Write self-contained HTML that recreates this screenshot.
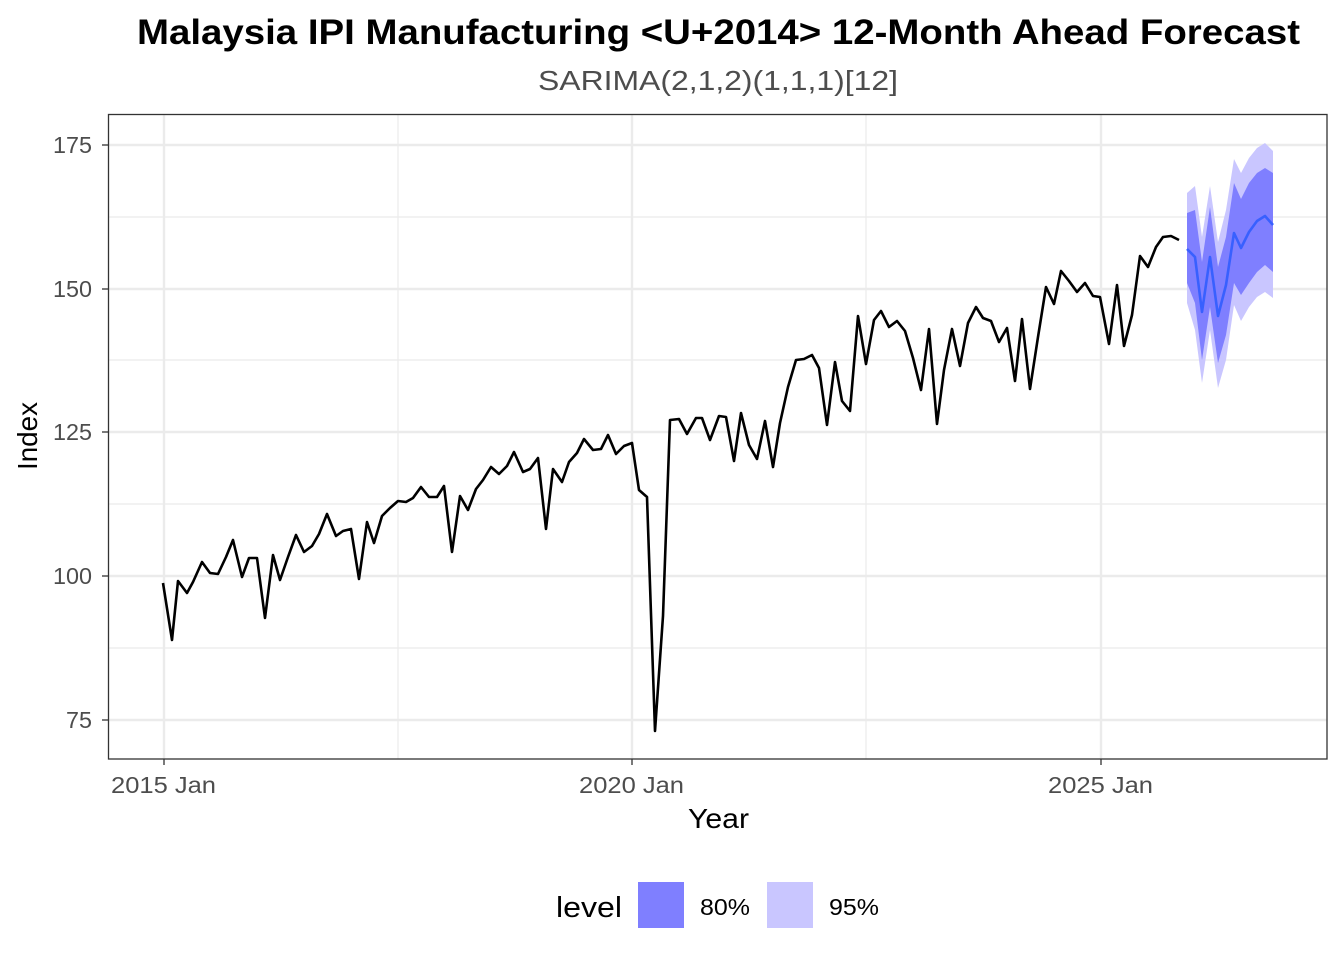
<!DOCTYPE html>
<html><head><meta charset="utf-8"><style>body{margin:0;background:#fff}svg{display:block}text{font-family:"Liberation Sans",Arial,sans-serif}</style></head><body>
<svg width="1344" height="960" viewBox="0 0 1344 960" xmlns="http://www.w3.org/2000/svg">
<rect width="1344" height="960" fill="#fff"/>
<text x="137" y="44" font-size="35" font-weight="bold" textLength="1163" lengthAdjust="spacingAndGlyphs" fill="#000">Malaysia IPI Manufacturing &lt;U+2014&gt; 12-Month Ahead Forecast</text>
<text x="538" y="90" font-size="28" textLength="360" lengthAdjust="spacingAndGlyphs" fill="#4d4d4d">SARIMA(2,1,2)(1,1,1)[12]</text>
<g stroke="#ebebeb" stroke-width="1.2">
<line x1="108" x2="1327" y1="217" y2="217"/><line x1="108" x2="1327" y1="360" y2="360"/><line x1="108" x2="1327" y1="504" y2="504"/><line x1="108" x2="1327" y1="648" y2="648"/>
<line x1="398" x2="398" y1="114" y2="759"/><line x1="866" x2="866" y1="114" y2="759"/>
</g>
<g stroke="#ebebeb" stroke-width="2.4">
<line x1="108" x2="1327" y1="145" y2="145"/><line x1="108" x2="1327" y1="289" y2="289"/><line x1="108" x2="1327" y1="432" y2="432"/><line x1="108" x2="1327" y1="576" y2="576"/><line x1="108" x2="1327" y1="720" y2="720"/>
<line x1="164" x2="164" y1="114" y2="759"/><line x1="632" x2="632" y1="114" y2="759"/><line x1="1101" x2="1101" y1="114" y2="759"/>
</g>
<polygon fill="#c9c6ff" points="1187,193 1195,186 1202,237 1210,186 1218,242 1226,210 1234,159 1241,173 1249,158 1257,148 1265,143 1273,151 1273,298 1265,292 1257,297 1249,307 1241,321 1234,305 1226,360 1218,388 1210,330 1202,383 1195,330 1187,303"/>
<polygon fill="#7f7fff" points="1187,213 1195,210 1202,262 1210,207 1218,267 1226,237 1234,183 1241,199 1249,183 1257,173 1265,168 1273,173 1273,272 1265,265 1257,272 1249,283 1241,295 1234,283 1226,335 1218,363 1210,307 1202,360 1195,303 1187,283"/>
<polyline fill="none" stroke="#000" stroke-width="2.6" stroke-linejoin="round" points="163,583 172,640 178,581 187,593 193,582 202,562 210,573 218,574 226,557 233,540 242,577 249,558 257,558 265,618 273,555 280,580 288,557 296,535 304,552 312,546 319,534 327,514 336,536 343,531 351,529 359,579 367,522 374,543 382,516 390,508 398,501 406,502 413,498 421,487 429,497 437,497 444,486 452,552 460,496 468,510 476,489 483,480 491,467 499,474 507,466 514,452 523,472 530,469 538,458 546,529 553,469 562,482 569,462 577,453 584,439 593,450 601,449 608,435 616,454 624,446 632,443 639,490 647,497 655,731 663,616 670,420 679,419 687,434 696,418 702,418 710,440 719,416 726,417 734,461 741,413 749,445 757,459 765,421 773,467 780,423 788,387 796,360 804,359 812,355 819,368 827,425 835,362 842,401 850,411 858,316 866,364 874,320 881,311 889,327 897,321 905,331 913,358 921,390 929,329 937,424 944,370 952,329 960,366 968,323 976,307 983,318 991,321 999,342 1007,328 1015,381 1022,319 1030,389 1038,337 1046,287 1054,304 1061,271 1069,281 1077,292 1085,283 1093,296 1100,297 1109,344 1117,285 1124,346 1132,315 1140,256 1148,267 1156,247 1163,237 1171,236 1179,240"/>
<polyline fill="none" stroke="#3860ff" stroke-width="2.6" stroke-linejoin="round" points="1187,249 1195,257 1202,312 1210,257 1218,316 1226,285 1234,233 1241,248 1249,232 1257,221 1265,216 1273,225"/>
<rect x="108.5" y="114.5" width="1218.5" height="644.5" fill="none" stroke="#333" stroke-width="1.3"/>
<g stroke="#333" stroke-width="1.3">
<line x1="102" x2="108" y1="145" y2="145"/><line x1="102" x2="108" y1="289" y2="289"/><line x1="102" x2="108" y1="432" y2="432"/><line x1="102" x2="108" y1="576" y2="576"/><line x1="102" x2="108" y1="720" y2="720"/>
<line x1="164" x2="164" y1="759" y2="765"/><line x1="632" x2="632" y1="759" y2="765"/><line x1="1101" x2="1101" y1="759" y2="765"/>
</g>
<g font-size="23" fill="#4d4d4d">
<text x="53" y="153" textLength="39" lengthAdjust="spacingAndGlyphs">175</text><text x="53" y="297" textLength="39" lengthAdjust="spacingAndGlyphs">150</text><text x="53" y="440" textLength="39" lengthAdjust="spacingAndGlyphs">125</text><text x="53" y="584" textLength="39" lengthAdjust="spacingAndGlyphs">100</text><text x="66" y="728" textLength="26" lengthAdjust="spacingAndGlyphs">75</text>
</g>
<g font-size="23" fill="#4d4d4d">
<text x="111" y="793" textLength="105" lengthAdjust="spacingAndGlyphs">2015 Jan</text><text x="579" y="793" textLength="105" lengthAdjust="spacingAndGlyphs">2020 Jan</text><text x="1048" y="793" textLength="105" lengthAdjust="spacingAndGlyphs">2025 Jan</text>
</g>
<text x="688" y="828" font-size="28" textLength="61" lengthAdjust="spacingAndGlyphs" fill="#000">Year</text>
<text transform="translate(37,470) rotate(-90)" font-size="28" textLength="68" lengthAdjust="spacingAndGlyphs" fill="#000">Index</text>
<text x="556" y="917" font-size="29" textLength="66" lengthAdjust="spacingAndGlyphs" fill="#000">level</text>
<rect x="638" y="882" width="46" height="46" fill="#7f7fff"/>
<text x="700" y="915" font-size="23" textLength="50" lengthAdjust="spacingAndGlyphs" fill="#000">80%</text>
<rect x="767" y="882" width="46" height="46" fill="#c9c6ff"/>
<text x="829" y="915" font-size="23" textLength="50" lengthAdjust="spacingAndGlyphs" fill="#000">95%</text>
</svg>
</body></html>
